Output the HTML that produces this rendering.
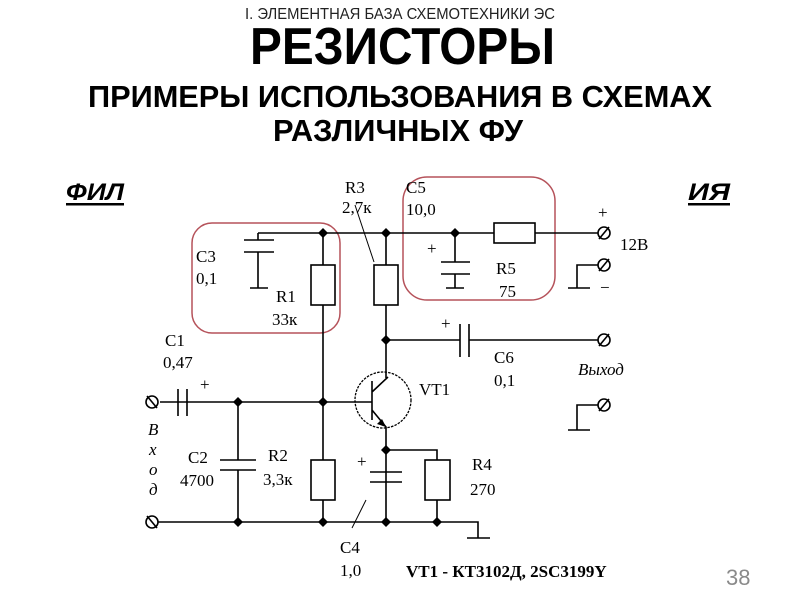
<!DOCTYPE html>
<html><head><meta charset="utf-8"><style>html,body{margin:0;padding:0;background:#fff}svg{display:block}</style></head>
<body>
<svg width="800" height="600" viewBox="0 0 800 600" xmlns="http://www.w3.org/2000/svg">
<g font-family="Liberation Sans, sans-serif" font-weight="bold" fill="#000">
<text x="245" y="19" font-size="16" font-weight="normal" fill="#222" textLength="310" lengthAdjust="spacingAndGlyphs">I. ЭЛЕМЕНТНАЯ БАЗА СХЕМОТЕХНИКИ ЭС</text>
<text x="250" y="64" font-size="52" textLength="305" lengthAdjust="spacingAndGlyphs">РЕЗИСТОРЫ</text>
<text x="88" y="107" font-size="31" textLength="624" lengthAdjust="spacingAndGlyphs">ПРИМЕРЫ ИСПОЛЬЗОВАНИЯ В СХЕМАХ</text>
<text x="273" y="141" font-size="31" textLength="250" lengthAdjust="spacingAndGlyphs">РАЗЛИЧНЫХ ФУ</text>
<text x="66" y="200" font-size="24" font-style="italic" textLength="58" lengthAdjust="spacingAndGlyphs">ФИЛ</text>
<rect x="66" y="203" width="58" height="2.5"/>
<text x="688" y="200" font-size="24" font-style="italic" textLength="42" lengthAdjust="spacingAndGlyphs">ИЯ</text>
<rect x="688" y="203" width="42" height="2.5"/>
</g>
<rect x="192" y="223" width="148" height="110" rx="20" fill="none" stroke="#b5525a" stroke-width="1.5"/>
<rect x="403" y="177" width="152" height="123" rx="24" fill="none" stroke="#b5525a" stroke-width="1.5"/>
<g stroke="#000" stroke-width="1.6" fill="none">
<path d="M258 233H494M535 233H598"/>
<rect x="494" y="223" width="41" height="20"/>
<path d="M258 233V240M244 240H274M244 252H274M258 252V288M250 288H268"/>
<path d="M323 233V265M323 305V460M323 500V522"/>
<rect x="311" y="265" width="24" height="40"/>
<rect x="311" y="460" width="24" height="40"/>
<path d="M386 233V265M386 305V378"/>
<rect x="374" y="265" width="24" height="40"/>
<path d="M355 205L374 262" stroke-width="1"/>
<path d="M455 233V262M441 262H470M441 274H470M455 274V288M446 288H464"/>
<path d="M598 265H577V288M568 288H590"/>
<path d="M386 340H460M460 324V357M469 324V357M469 340H598"/>
<path d="M598 405H577V430M568 430H590"/>
<circle cx="383" cy="400" r="28" stroke-dasharray="2.5 1.2" stroke-width="1.3"/>
<path d="M372 381V420M160 402H372M372 392L388 377M372 410L386 427V522M386 450H437V460M437 500V522"/>
<rect x="425" y="460" width="25" height="40"/>
<path d="M178 389V416M187 389V416"/>
<path d="M238 402V460M220 460H256M220 470H256M238 470V522"/>
<path d="M370 472H402M370 482H402"/>
<path d="M366 500L352 528" stroke-width="1"/>
<path d="M158 522H478V538M467 538H490"/>
<circle cx="604" cy="233" r="6"/><path d="M599 239L609 227"/>
<circle cx="604" cy="265" r="6"/><path d="M599 271L609 259"/>
<circle cx="604" cy="340" r="6"/><path d="M599 346L609 334"/>
<circle cx="604" cy="405" r="6"/><path d="M599 411L609 399"/>
<circle cx="152" cy="402" r="6"/><path d="M147 396L157 408"/>
<circle cx="152" cy="522" r="6"/><path d="M147 516L157 528"/>
</g>
<g fill="#000">
<path d="M323 228l5 5-5 5-5-5z"/><path d="M386 228l5 5-5 5-5-5z"/><path d="M455 228l5 5-5 5-5-5z"/>
<path d="M386 335l5 5-5 5-5-5z"/><path d="M238 397l5 5-5 5-5-5z"/><path d="M323 397l5 5-5 5-5-5z"/>
<path d="M386 445l5 5-5 5-5-5z"/>
<path d="M238 517l5 5-5 5-5-5z"/><path d="M323 517l5 5-5 5-5-5z"/><path d="M386 517l5 5-5 5-5-5z"/><path d="M437 517l5 5-5 5-5-5z"/>
<path d="M386 427l-9-3 5-5z"/>
</g>
<g font-family="Liberation Serif, serif" font-size="17" fill="#000">
<text x="345" y="193">R3</text><text x="342" y="213">2,7к</text>
<text x="406" y="193">C5</text><text x="406" y="215">10,0</text>
<text x="196" y="262">C3</text><text x="196" y="284">0,1</text>
<text x="276" y="302">R1</text><text x="272" y="325">33к</text>
<text x="496" y="274">R5</text><text x="499" y="297">75</text>
<text x="620" y="250">12В</text>
<text x="165" y="346">C1</text><text x="163" y="368">0,47</text>
<text x="494" y="363">C6</text><text x="494" y="386">0,1</text>
<text x="419" y="395">VT1</text>
<text x="188" y="463">C2</text><text x="180" y="486">4700</text>
<text x="268" y="461">R2</text><text x="263" y="485">3,3к</text>
<text x="472" y="470">R4</text><text x="470" y="495">270</text>
<text x="340" y="553">C4</text><text x="340" y="576">1,0</text>
<g font-style="italic"><text x="578" y="375">Выход</text>
<text x="148" y="435">В</text><text x="149" y="455">х</text><text x="149" y="475">о</text><text x="149" y="495">д</text></g>
<text x="598" y="218">+</text><text x="600" y="293">−</text>
<text x="427" y="254">+</text><text x="441" y="329">+</text><text x="200" y="390">+</text><text x="357" y="467">+</text>
<text x="406" y="577" font-weight="bold" font-size="17">VT1 -  КТ3102Д,  2SC3199Y</text>
</g>
<text x="726" y="585" font-family="Liberation Sans, sans-serif" font-size="22" fill="#8a8a8a">38</text>
</svg>
</body></html>
